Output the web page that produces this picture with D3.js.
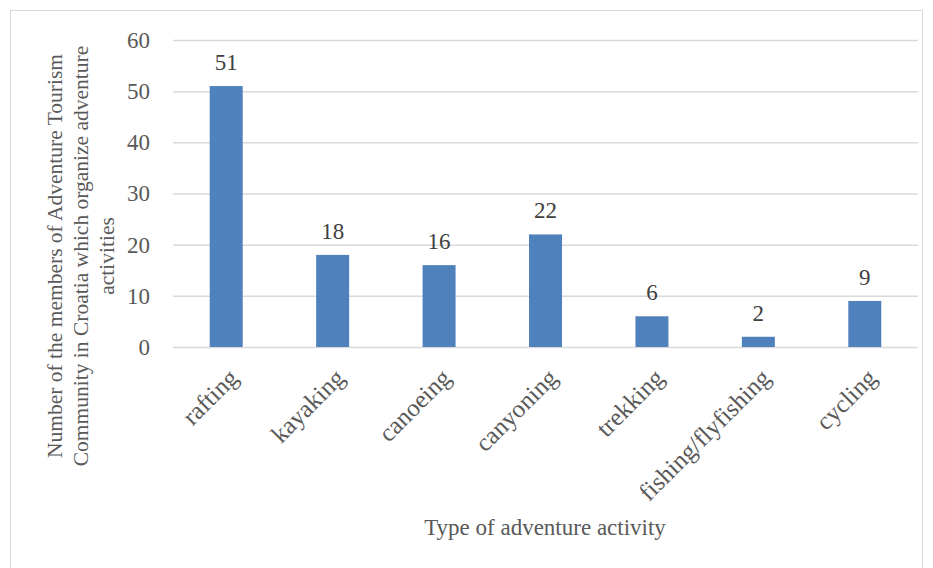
<!DOCTYPE html>
<html>
<head>
<meta charset="utf-8">
<script src="https://cdn.jsdelivr.net/npm/d3@7"></script>
<style>
  body { margin: 0; background: #fff; }
  svg text { font-family: "Liberation Serif", "DejaVu Serif", serif; }
</style>
</head>
<body>
<svg id="chart" width="933" height="568"></svg>
<script>
const categories = ["rafting", "kayaking", "canoeing", "canyoning", "trekking", "fishing/flyfishing", "cycling"];
const values = [51, 18, 16, 22, 6, 2, 9];
const yTicks = [0, 10, 20, 30, 40, 50, 60];
const yTitleLines = ["Number of the members of Adventure Tourism", "Community in Croatia which organize adventure", "activities"];
const xTitle = "Type of adventure activity";

const width = 933, height = 568;
const margin = { top: 40, right: 15, bottom: 221, left: 173 };
const innerW = width - margin.left - margin.right;
const innerH = height - margin.top - margin.bottom;

const svg = d3.select("#chart");

// outer frame
svg.append("rect")
    .attr("x", 10.5).attr("y", 10.5)
    .attr("width", 912).attr("height", 570)
    .attr("fill", "none")
    .attr("stroke", "#d9d9d9");

const g = svg.append("g")
    .attr("transform", `translate(${margin.left}, ${margin.top})`);

const x = d3.scaleBand()
    .domain(categories)
    .range([0, innerW])
    .paddingInner(0.69)
    .paddingOuter(0.345);

const y = d3.scaleLinear()
    .domain([0, 60])
    .range([innerH, 0]);

// gridlines + y labels
const yAxis = g.append("g")
    .call(d3.axisLeft(y).tickValues(yTicks).tickSize(-innerW).tickPadding(23));
yAxis.select(".domain").remove();
yAxis.selectAll(".tick line").attr("stroke", "#d9d9d9").attr("stroke-width", 1.5);
yAxis.selectAll("text")
    .style("font-size", "23px")
    .attr("fill", "#595959");

// bars
g.selectAll(".bar")
    .data(values)
    .enter()
    .append("rect")
    .attr("class", "bar")
    .attr("x", (d, i) => x(categories[i]))
    .attr("y", d => y(d))
    .attr("width", x.bandwidth())
    .attr("height", d => innerH - y(d))
    .attr("fill", "#4f81bd");

// data labels
g.selectAll(".label")
    .data(values)
    .enter()
    .append("text")
    .attr("class", "label")
    .attr("x", (d, i) => x(categories[i]) + x.bandwidth() / 2)
    .attr("y", d => y(d) - 16)
    .attr("text-anchor", "middle")
    .style("font-size", "23px")
    .attr("fill", "#404040")
    .text(d => d);

// category labels
g.selectAll(".cat")
    .data(categories)
    .enter()
    .append("text")
    .attr("class", "cat")
    .attr("transform", d => `translate(${x(d) + x.bandwidth() / 2 + 1}, ${innerH + 20}) rotate(-45)`)
    .attr("text-anchor", "end")
    .attr("dy", "0.7em")
    .style("font-size", "25px")
    .attr("fill", "#595959")
    .text(d => d);

// x title
svg.append("text")
    .attr("x", 545)
    .attr("y", 535)
    .attr("text-anchor", "middle")
    .style("font-size", "23px")
    .attr("fill", "#595959")
    .text(xTitle);

// y title
const yt = svg.append("text")
    .attr("transform", "translate(62, 256) rotate(-90)")
    .attr("text-anchor", "middle")
    .style("font-size", "21.5px")
    .attr("fill", "#595959");
yTitleLines.forEach((line, i) => {
    yt.append("tspan")
        .attr("x", 0)
        .attr("dy", i === 0 ? 0 : 26)
        .text(line);
});
</script>
</body>
</html>
